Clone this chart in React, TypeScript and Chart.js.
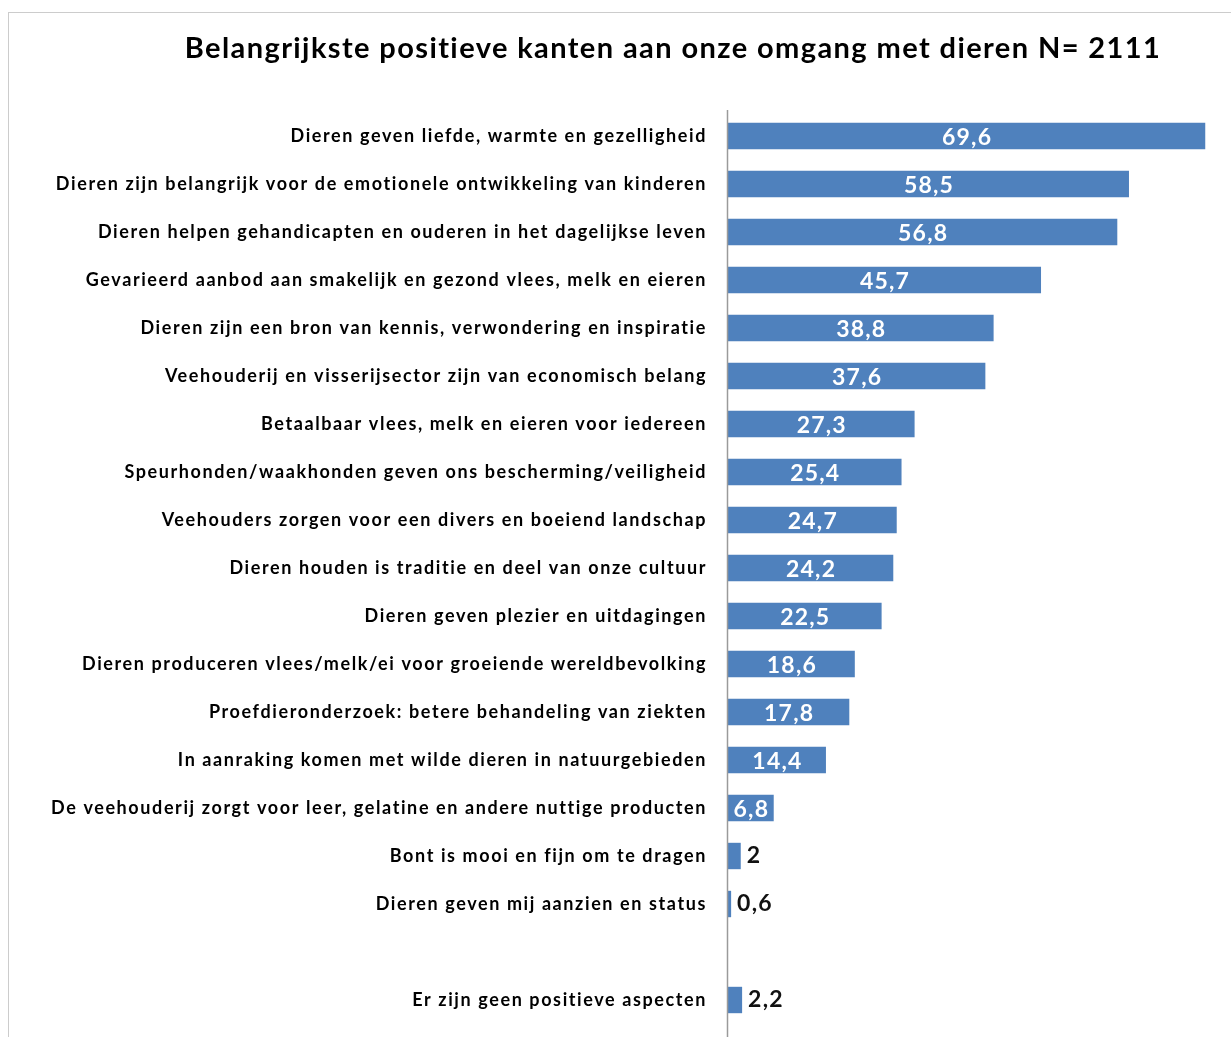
import React, { useEffect, useRef } from "react";
import { Chart, registerables } from "chart.js";

Chart.register(...registerables);

const categories: string[] = [
  "Dieren geven liefde, warmte en gezelligheid",
  "Dieren zijn belangrijk voor de emotionele ontwikkeling van kinderen",
  "Dieren helpen gehandicapten en ouderen in het dagelijkse leven",
  "Gevarieerd aanbod aan smakelijk en gezond vlees, melk en eieren",
  "Dieren zijn een bron van kennis, verwondering en inspiratie",
  "Veehouderij en visserijsector zijn van economisch belang",
  "Betaalbaar vlees, melk en eieren voor iedereen",
  "Speurhonden/waakhonden geven ons bescherming/veiligheid",
  "Veehouders zorgen voor een divers en boeiend landschap",
  "Dieren houden is traditie en deel van onze cultuur",
  "Dieren geven plezier en uitdagingen",
  "Dieren produceren vlees/melk/ei voor groeiende wereldbevolking",
  "Proefdieronderzoek: betere behandeling van ziekten",
  "In aanraking komen met wilde dieren in natuurgebieden",
  "De veehouderij zorgt voor leer, gelatine en andere nuttige producten",
  "Bont is mooi en fijn om te dragen",
  "Dieren geven mij aanzien en status",
  "",
  "Er zijn geen positieve aspecten",
];

const values: (number | null)[] = [
  69.6, 58.5, 56.8, 45.7, 38.8, 37.6, 27.3, 25.4, 24.7, 24.2, 22.5, 18.6, 17.8,
  14.4, 6.8, 2, 0.6, null, 2.2,
];

const titleText = "Belangrijkste positieve kanten aan onze omgang met dieren N= 2111";

const FONT = "Lato, 'Open Sans', sans-serif";

const fmt = (v: number) => String(v).replace(".", ",");

const spacingPlugin = {
  id: "spacing",
  beforeDraw(chart: any) {
    (chart.ctx as any).letterSpacing = "1.6px";
  },
  afterDraw(chart: any) {
    (chart.ctx as any).letterSpacing = "0px";
  },
};

const labelPlugin = {
  id: "barLabels",
  afterDatasetsDraw(chart: any) {
    const ctx = chart.ctx;
    const meta = chart.getDatasetMeta(0);
    ctx.save();
    (ctx as any).letterSpacing = "1.2px";
    meta.data.forEach((el: any, i: number) => {
      const v = values[i];
      if (v === null || v === undefined) return;
      const txt = fmt(v);
      ctx.textBaseline = "middle";
      ctx.font = `bold 23px ${FONT}`;
      if (v >= 5) {
        ctx.fillStyle = "#ffffff";
        ctx.textAlign = "center";
        ctx.fillText(txt, (el.x + el.base) / 2 + 1, el.y + 2);
      } else {
        ctx.fillStyle = "#111111";
        ctx.textAlign = "left";
        ctx.fillText(txt, el.x + 6, el.y);
      }
    });
    ctx.restore();
  },
};

const axisLinePlugin = {
  id: "axisLine",
  afterDraw(chart: any) {
    const ctx = chart.ctx;
    const x = Math.round(chart.chartArea.left) + 0.5;
    ctx.save();
    ctx.strokeStyle = "#9a9a9a";
    ctx.lineWidth = 1.5;
    ctx.beginPath();
    ctx.moveTo(x, 110);
    ctx.lineTo(x, 1037);
    ctx.stroke();
    ctx.restore();
  },
};

export default function App() {
  const ref = useRef<HTMLCanvasElement | null>(null);

  useEffect(() => {
    document.body.style.margin = "0";
    document.body.style.overflow = "hidden";
    if (!ref.current) return;
    const chart = new Chart(ref.current, {
      type: "bar",
      data: {
        labels: categories,
        datasets: [
          {
            data: values as any,
            backgroundColor: "#4F81BD",
            borderWidth: 0,
            barPercentage: 0.55,
            categoryPercentage: 1,
          },
        ],
      },
      options: {
        indexAxis: "y",
        animation: false,
        responsive: false,
        devicePixelRatio: 1,
        layout: { padding: { left: 0, right: 23, top: 112, bottom: 13 } },
        plugins: {
          legend: { display: false },
          tooltip: { enabled: false },
          title: { display: false },
        },
        scales: {
          x: { display: false, min: 0, max: 70 },
          y: {
            grid: { display: false, drawTicks: false },
            border: { display: false },
            ticks: {
              padding: 20,
              color: "#000000",
              font: { family: FONT, size: 18, weight: "bold" },
              autoSkip: false,
            },
            afterFit(scale: any) {
              scale.width = 727;
              scale.paddingTop = 0;
              scale.paddingBottom = 0;
            },
          },
        },
      },
      plugins: [spacingPlugin, labelPlugin, axisLinePlugin],
    });
    return () => chart.destroy();
  }, []);

  return (
    <div
      style={{
        position: "relative",
        width: 1231,
        height: 1037,
        overflow: "hidden",
        background: "#ffffff",
      }}
    >
      <div
        style={{
          position: "absolute",
          left: 8,
          top: 12,
          width: 1400,
          height: 1200,
          border: "1.5px solid #cccccc",
        }}
      />
      <canvas
        ref={ref}
        width={1231}
        height={1037}
        style={{ position: "absolute", left: 0, top: 0, display: "block" }}
      />
      <div
        style={{
          position: "absolute",
          left: 673,
          top: 29,
          transform: "translateX(-50%)",
          whiteSpace: "nowrap",
          fontFamily: FONT,
          fontWeight: "bold",
          fontSize: 29,
          letterSpacing: "1.4px",
          lineHeight: "36px",
          color: "#000000",
        }}
      >
        {titleText}
      </div>
    </div>
  );
}
